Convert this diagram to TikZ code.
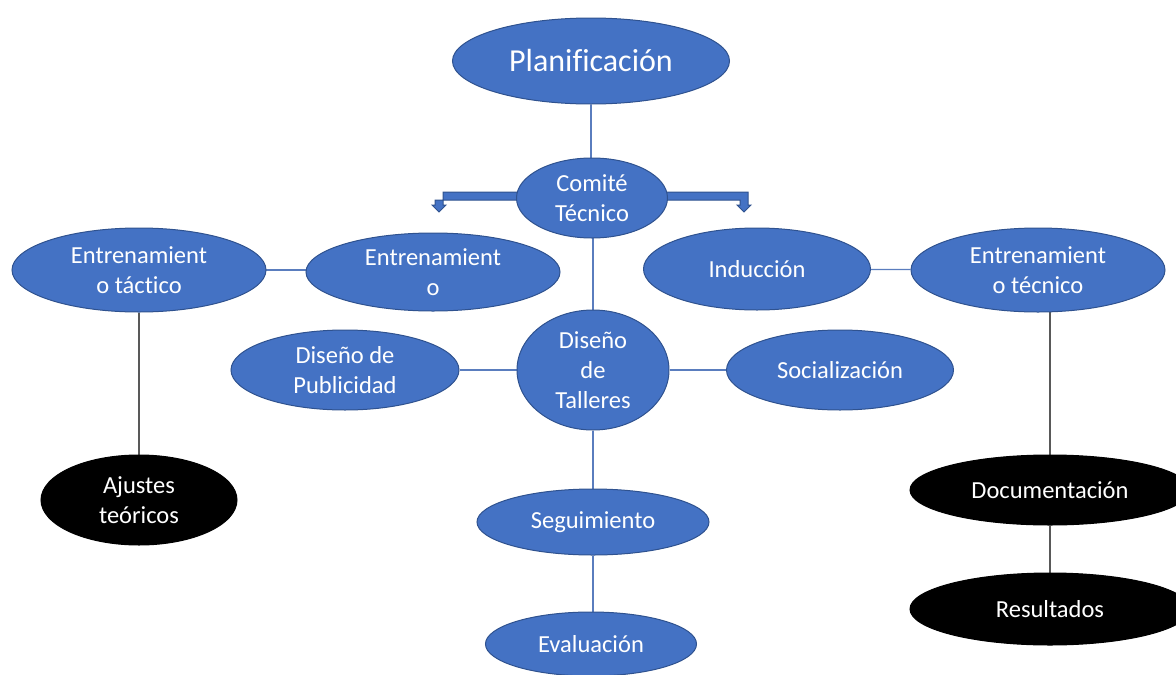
\documentclass[tikz,border=0pt]{standalone}
\usepackage{fontspec}
\setmainfont{Carlito}[Ligatures=NoCommon]
\usepackage{xcolor}
\usepackage{tikz}
\usetikzlibrary{shapes.geometric}
\usetikzlibrary{backgrounds}
\usetikzlibrary{calc}

\definecolor{boxblue}{HTML}{4472C4}
\definecolor{edgeblue}{HTML}{2F528F}
\definecolor{lineblue}{HTML}{5A7DBE}
\definecolor{linegray}{HTML}{595959}

\begin{document}
\begin{tikzpicture}[x=1pt, y=-1pt,
    bubble/.style={ellipse, draw=edgeblue, fill=boxblue, line width=1pt,
        text=white, align=center, inner sep=0pt,
        font=\fontsize{24.5}{30}\selectfont},
    darkbubble/.style={bubble, draw=black, fill=black},
    conn/.style={draw=lineblue, line width=1.2pt},
    grayconn/.style={draw=linegray, line width=1.2pt},
    blockarrow/.style={draw=edgeblue, fill=boxblue, line width=1pt, line join=miter}]
\useasboundingbox (0, 0) rectangle (1176, 675);
\clip (0, 0) rectangle (1176, 675);

% nodes
\node [bubble, minimum width=277, minimum height=86,
    font=\fontsize{32}{38}\selectfont] (plan) at (591, 61) {Planificación};
\node [bubble, minimum width=151, minimum height=80] (com) at (592, 198) {Comité\\Técnico};
\node [bubble, minimum width=254, minimum height=78] (ent) at (433, 272) {Entrenamient\\o};
\node [bubble, minimum width=227, minimum height=82] (ind) at (757, 269) {Inducción};
\node [bubble, minimum width=254, minimum height=84] (tac) at (139, 270) {Entrenamient\\o táctico};
\node [bubble, minimum width=254, minimum height=84] (tec) at (1038, 270) {Entrenamient\\o técnico};
\node [bubble, minimum width=152, minimum height=120] (tal) at (593, 370) {Diseño\\de\\Talleres};
\node [bubble, minimum width=228, minimum height=80] (pub) at (345, 370) {Diseño de\\Publicidad};
\node [bubble, minimum width=227, minimum height=80] (soc) at (840, 370) {Socialización};
\node [bubble, minimum width=232, minimum height=66] (seg) at (593, 522) {Seguimiento};
\node [bubble, minimum width=211, minimum height=64] (eva) at (591, 644) {Evaluación};
\node [darkbubble, minimum width=196, minimum height=90] (aju) at (139, 500) {Ajustes\\teóricos};
\node [darkbubble, minimum width=280, minimum height=70] (doc) at (1050, 490) {Documentación};
\node [darkbubble, minimum width=280, minimum height=72] (res) at (1050, 609) {Resultados};

% connectors
\begin{scope}[on background layer]
\draw [conn] (plan) -- (plan |- com);
\draw [conn] (tal) -- (tal |- com);
\draw [conn] (tac.center) -- (tac.center -| ent);
\draw [conn] (ind) -- (tec);
\draw [conn] (pub) -- (tal) -- (soc);
\draw [conn] (tal) -- (seg) -- (seg |- eva);
\draw [grayconn] (tac) -- (aju);
\draw [grayconn] (doc) -- (doc |- tec);
\draw [grayconn] (doc) -- (res);

\filldraw [blockarrow] ($(com) + (0, -6)$) -| ++(-149, 13) -- ++(3, 0)
    -- ++(-7, 7) -- ++(-7, -7) -- ++(3, 0) |- ($(com) + (0, 2)$) -- cycle;
\filldraw [blockarrow] ($(com) + (0, -6)$) -| ++(156, 13) -- ++(3, 0)
    -- ++(-7, 7) -- ++(-7, -7) -- ++(3, 0) |- ($(com) + (0, 2)$) -- cycle;
\end{scope}
\end{tikzpicture}
\end{document}
